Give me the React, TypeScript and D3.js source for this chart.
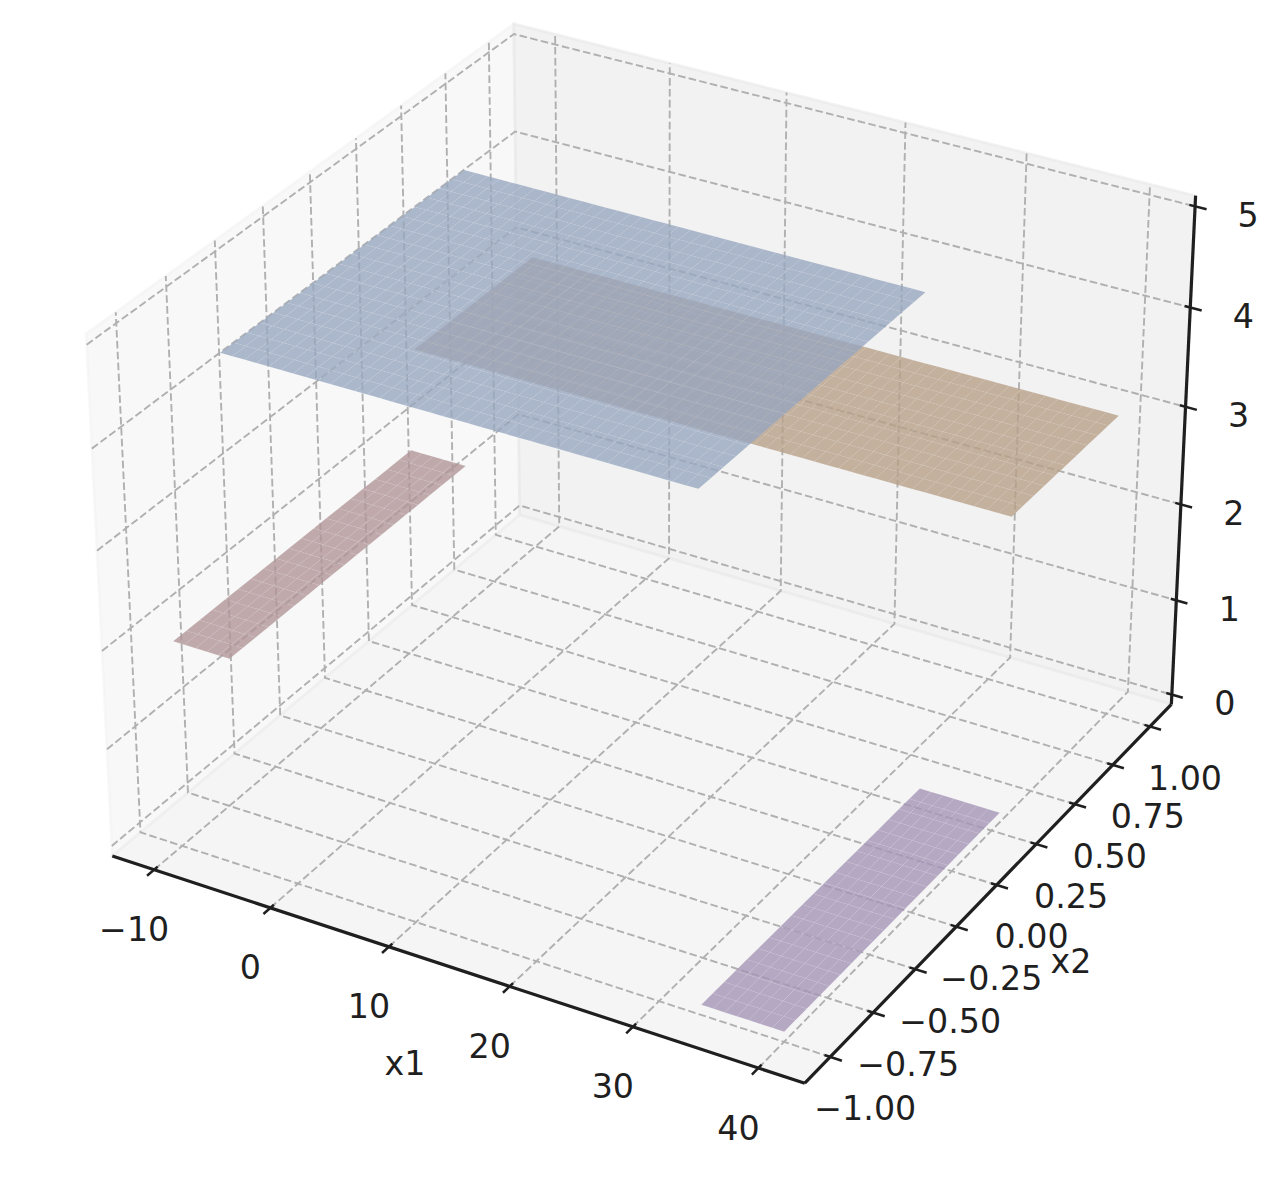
import React from "react";
import * as d3 from "d3";

// axis values
const x1Ticks = [-10, 0, 10, 20, 30, 40];
const x2Ticks = [-1, -0.75, -0.5, -0.25, 0, 0.25, 0.5, 0.75, 1];
const zTicks = [0, 1, 2, 3, 4, 5];
const x1Lim = [-12.5, 42.5];
const x2Lim = [-1.1, 1.1];
const zLim = [0, 5];

// flat regions of the surface: x1 range, x2 range, height
const orangeX1 = [-10, 40];
const orangeX2 = [0.315, 1];
const orangeZ = 3;
const redX1 = [-10, -5.2];
const redX2 = [-1, 0.285];
const redZ = 2;
const purpleX1 = [33.4, 40];
const purpleX2 = [-1, 0.3];
const purpleZ = 0;
const blueX1 = [-5, 33];
const blueX2 = [-1, 0.29];
const blueZ = 5;
const x1Step = 1;
const x2Step = 1 / 15;

const WIDTH = 1279;
const HEIGHT = 1180;
const INK = "#1f1f1f";
const GRID = "#b0b0b0";

// camera: elev 30, azim -60, box 4:4:3, same maths as mplot3d
const dist = 10;
const boxScale = (1.8294640721620434 * 25) / 24 / Math.hypot(4, 4, 3);
const boxXY = 4 * boxScale;
const boxZ = 3 * boxScale;
const cx = 652;
const cy = 527;
const zoom = 6395;

const worldX = d3.scaleLinear().domain(x1Lim).range([-boxXY / 2, boxXY / 2]);
const worldY = d3.scaleLinear().domain(x2Lim).range([-boxXY / 2, boxXY / 2]);
const worldZ = d3.scaleLinear().domain(zLim).range([-boxZ / 2, boxZ / 2]);
const screenX = d3.scaleLinear().domain([0, 1]).range([cx, cx + zoom]);
const screenY = d3.scaleLinear().domain([0, 1]).range([cy, cy - zoom]);

const el = (30 * Math.PI) / 180;
const az = (-60 * Math.PI) / 180;
const w = [Math.cos(el) * Math.cos(az), Math.cos(el) * Math.sin(az), Math.sin(el)];
const u = [-Math.sin(az), Math.cos(az), 0];
const v = [w[1] * u[2] - w[2] * u[1], w[2] * u[0] - w[0] * u[2], w[0] * u[1] - w[1] * u[0]];

function project(x: number, y: number, z: number): [number, number] {
  const p = [worldX(x), worldY(y), worldZ(z)];
  const dot = (a: number[]) => a[0] * p[0] + a[1] * p[1] + a[2] * p[2];
  const d = dist - dot(w);
  return [screenX(dot(u) / d), screenY(dot(v) / d)];
}

const line = d3.line<number[]>().x((d) => d[0]).y((d) => d[1]);
const path3 = (pts: number[][]) => line(pts.map((p) => project(p[0], p[1], p[2])))!;
const closed3 = (pts: number[][]) => path3(pts) + "Z";

// panes stick out 1/48 of the range past the limits
const pad = (lim: number[]) => (lim[1] - lim[0]) / 48;
const xA = x1Lim[0] - pad(x1Lim);
const xB = x1Lim[1] + pad(x1Lim);
const yA = x2Lim[0] - pad(x2Lim);
const yB = x2Lim[1] + pad(x2Lim);
const zA = zLim[0] - pad(zLim);
const zB = zLim[1] + pad(zLim);
const xDelta = (x1Lim[1] - x1Lim[0]) / 12;
const yDelta = (x2Lim[1] - x2Lim[0]) / 12;

const fmtX = (d: number) => String(d).replace("-", "\u2212");
const fmtY = (d: number) => d3.format(".2f")(d).replace("-", "\u2212");

const labelStyle: React.CSSProperties = {
  fontFamily: "'DejaVu Sans'",
  fontSize: 33.3,
  fill: INK,
};

function Label({ at, dx, dy, text }: { at: [number, number]; dx: number; dy: number; text: string }) {
  return (
    <text x={at[0] + dx} y={at[1] + dy} textAnchor="middle" dominantBaseline="central" style={labelStyle}>
      {text}
    </text>
  );
}

// split a range into mesh edges of about the given step
function edges(range: number[], step: number) {
  const n = Math.round((range[1] - range[0]) / step);
  return d3.range(n + 1).map((i) => range[0] + ((range[1] - range[0]) * i) / n);
}

function Surface({ xs, ys, z, fill }: { xs: number[]; ys: number[]; z: number; fill: string }) {
  const cells: string[] = [];
  d3.pairs(edges(xs, x1Step)).forEach(([x0, x1]) => {
    d3.pairs(edges(ys, x2Step)).forEach(([y0, y1]) => {
      cells.push(closed3([[x0, y0, z], [x1, y0, z], [x1, y1, z], [x0, y1, z]]));
    });
  });
  return (
    <g fill={fill} fillOpacity={0.8} stroke="#fff" strokeOpacity={0.08} strokeWidth={0.7}>
      {cells.map((d, i) => (
        <path key={i} d={d} />
      ))}
    </g>
  );
}

export default function App() {
  const panes = [
    { fill: "rgb(242,242,242)", pts: [[xA, yA, zA], [xA, yB, zA], [xA, yB, zB], [xA, yA, zB]] },
    { fill: "rgb(230,230,230)", pts: [[xA, yB, zA], [xB, yB, zA], [xB, yB, zB], [xA, yB, zB]] },
    { fill: "rgb(236,236,236)", pts: [[xA, yA, zA], [xB, yA, zA], [xB, yB, zA], [xA, yB, zA]] },
  ];

  return (
    <svg width={WIDTH} height={HEIGHT} style={{ position: "absolute", left: 0, top: 0 }}>
      <rect width={WIDTH} height={HEIGHT} fill="white" />

      {panes.map((p, i) => (
        <path key={i} d={closed3(p.pts)} fill={p.fill} fillOpacity={0.5} stroke={p.fill} strokeOpacity={0.5} strokeWidth={2.67} />
      ))}

      <g fill="none" stroke={GRID} strokeWidth={1.9} strokeDasharray="7.6 3.3">
        {x1Ticks.map((t) => (
          <path key={t} d={path3([[t, yA, zA], [t, yB, zA], [t, yB, zB]])} />
        ))}
        {x2Ticks.map((t) => (
          <path key={t} d={path3([[xB, t, zA], [xA, t, zA], [xA, t, zB]])} />
        ))}
        {zTicks.map((t) => (
          <path key={t} d={path3([[xA, yA, t], [xA, yB, t], [xB, yB, t]])} />
        ))}
      </g>

      <g fill="none" stroke={INK} strokeWidth={3.2}>
        <path d={path3([[xA, yA, zA], [xB, yA, zA]])} />
        <path d={path3([[xB, yA, zA], [xB, yB, zA]])} />
        <path d={path3([[xB, yB, zA], [xB, yB, zB]])} />
      </g>
      <g fill="none" stroke={INK} strokeWidth={2.5}>
        {x1Ticks.map((t) => (
          <path key={t} d={path3([[t, yA + 0.1 * yDelta, zA], [t, yA - 0.2 * yDelta, zA]])} />
        ))}
        {x2Ticks.map((t) => (
          <path key={t} d={path3([[xB - 0.1 * xDelta, t, zA], [xB + 0.2 * xDelta, t, zA]])} />
        ))}
        {zTicks.map((t) => (
          <path key={t} d={path3([[xB - 0.1 * xDelta, yB, t], [xB + 0.2 * xDelta, yB, t]])} />
        ))}
      </g>

      <Surface xs={orangeX1} ys={orangeX2} z={orangeZ} fill="rgb(183,159,135)" />
      <Surface xs={redX1} ys={redX2} z={redZ} fill="rgb(176,149,151)" />
      <Surface xs={purpleX1} ys={purpleX2} z={purpleZ} fill="rgb(165,149,183)" />
      <Surface xs={blueX1} ys={blueX2} z={blueZ} fill="rgb(151,166,191)" />

      {/* group opacity keeps the glyphs on grey antialiasing */}
      <g opacity={0.999}>
        {x1Ticks.map((t) => (
          <Label key={t} at={project(t, yA, zA)} dx={-20} dy={60} text={fmtX(t)} />
        ))}
        {x2Ticks.map((t) => (
          <Label key={t} at={project(xB, t, zA)} dx={35} dy={52} text={fmtY(t)} />
        ))}
        {zTicks.map((t) => (
          <Label key={t} at={project(xB, yB, t)} dx={53} dy={9} text={String(t)} />
        ))}
        <text x={405} y={1063} textAnchor="middle" dominantBaseline="central" style={labelStyle}>x1</text>
        <text x={1071} y={961} textAnchor="middle" dominantBaseline="central" style={labelStyle}>x2</text>
      </g>
    </svg>
  );
}
